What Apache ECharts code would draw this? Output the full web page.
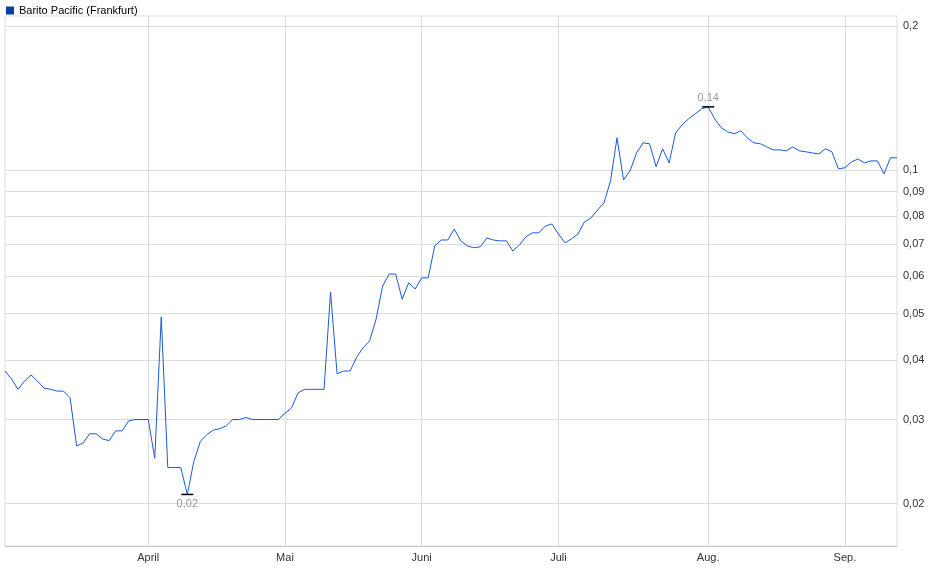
<!DOCTYPE html>
<html><head><meta charset="utf-8">
<script src="https://cdn.jsdelivr.net/npm/echarts@6/dist/echarts.min.js"></script>
<style>html,body{margin:0;padding:0;background:#fff}#c{width:940px;height:579px}</style>
</head><body><div id="c"></div>
<script>
const seriesName = 'Barito Pacific (Frankfurt)';
const monthNames = ['', 'April', 'Mai', 'Juni', 'Juli', 'Aug.', 'Sep.'];
const monthCounts = [22, 21, 21, 21, 23, 21, 9];
const prices = [
0.0379,0.0365,0.0347,0.0361,0.0372,0.0361,0.0349,0.0347,0.0344,0.0344,
0.0333,0.0264,0.0268,0.0280,0.0280,0.0273,0.0271,0.0284,0.0284,0.0298,
0.0300,0.0300,0.0300,0.0249,0.0492,0.0238,0.0238,0.0238,0.0209,0.0245,
0.0270,0.0279,0.0285,0.0287,0.0291,0.0300,0.0300,0.0303,0.0300,0.0300,
0.0300,0.0300,0.0300,0.0309,0.0317,0.0341,0.0347,0.0347,0.0347,0.0347,
0.0555,0.0374,0.0379,0.0379,0.0405,0.0424,0.0438,0.0487,0.0571,0.0605,
0.0605,0.0536,0.0580,0.0563,0.0594,0.0594,0.0693,0.0713,0.0713,0.0752,
0.0710,0.0693,0.0687,0.0690,0.0720,0.0713,0.0710,0.0710,0.0676,0.0696,
0.0724,0.0738,0.0738,0.0763,0.0770,0.0734,0.0703,0.0717,0.0734,0.0778,
0.0793,0.0824,0.0853,0.0948,0.1167,0.0953,0.0995,0.1085,0.1139,0.1134,
0.1015,0.1107,0.1034,0.1195,0.1243,0.1279,0.1310,0.1342,0.1355,0.1279,
0.1225,0.1201,0.1190,0.1207,0.1167,0.1139,0.1134,0.1117,0.1101,0.1101,
0.1096,0.1117,0.1096,0.1091,0.1085,0.1080,0.1107,0.1091,0.1005,0.1010,
0.1039,0.1054,0.1034,0.1044,0.1044,0.0981,0.1060,0.1060];
const yTicks = [0.02, 0.03, 0.04, 0.05, 0.06, 0.07, 0.08, 0.09, 0.1, 0.2];
const yMin = 0.0163, yMax = 0.21;

const categories = [];
monthNames.forEach((m, k) => { for (let j = 0; j < monthCounts[k]; j++) categories.push(j === 0 ? m : ''); });
const fmt = v => String(Math.round(v * 100) / 100).replace('.', ',');
const logData = prices.map(v => Math.log10(v));
let maxI = 0, minI = 0;
prices.forEach((v, i) => { if (v > prices[maxI]) maxI = i; if (v < prices[minI]) minI = i; });

const chart = echarts.init(document.getElementById('c'));
chart.setOption({
  animation: false,
  textStyle: { fontFamily: 'Arial, Liberation Sans, sans-serif' },
  legend: { left: 1, top: 0, itemWidth: 8, itemHeight: 8, itemGap: 4,
    icon: 'rect', textStyle: { fontSize: 11, color: '#000' }, data: [seriesName] },
  grid: { left: 5, right: 43, top: 16, bottom: 33, show: true, borderColor: '#ddd', borderWidth: 1 },
  xAxis: {
    type: 'category', data: categories, boundaryGap: false,
    axisLine: { lineStyle: { color: '#ccc' } },
    axisTick: { show: false },
    axisLabel: { interval: 0, fontSize: 11, color: '#333', margin: 6 },
    splitLine: { show: true, interval: (i, v) => v !== '', lineStyle: { color: '#ddd' } }
  },
  yAxis: {
    type: 'value', position: 'right',
    min: Math.log10(yMin), max: Math.log10(yMax),
    axisLine: { show: false },
    axisTick: { show: false, customValues: yTicks.map(v => Math.log10(v)) },
    axisLabel: { customValues: yTicks.map(v => Math.log10(v)), fontSize: 11, color: '#333', margin: 6,
      formatter: v => fmt(Math.pow(10, v)) },
    splitLine: { show: true, lineStyle: { color: '#ddd' } }
  },
  series: [{
    name: seriesName, type: 'line', data: logData, showSymbol: false,
    itemStyle: { color: '#0a3fa8' },
    lineStyle: { color: '#1a5bd0', width: 1 },
    markPoint: {
      symbol: 'rect', symbolSize: [12, 1.5], itemStyle: { color: '#000' },
      data: [
        { coord: [maxI, logData[maxI]], label: { show: true, position: 'top', distance: 3, color: '#999', fontSize: 11, formatter: fmt(prices[maxI]) } },
        { coord: [minI, logData[minI]], label: { show: true, position: 'bottom', distance: 3, color: '#999', fontSize: 11, formatter: fmt(prices[minI]) } }
      ]
    }
  }]
});
</script></body></html>
